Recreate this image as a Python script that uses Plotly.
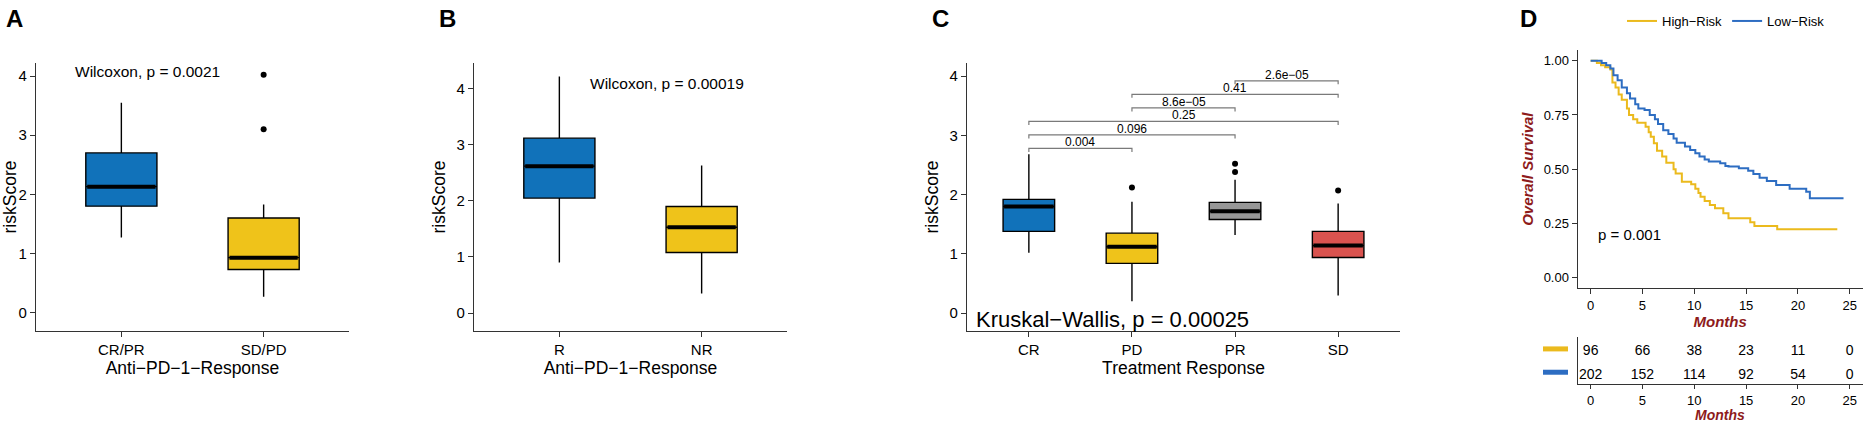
import plotly.graph_objects as go

W, H = 1864, 422
FONT = "Liberation Sans, Arial, sans-serif"
DARKRED = "#8E1B1B"
BLUE = "#1172BA"
YELLOW = "#EFC31A"
GRAY = "#979797"
RED = "#D9534F"
KM_YELLOW = "#EBBA1D"
KM_BLUE = "#2D6DC2"

# ---------------- data ----------------
# Panel A
a_cats = ["CR/PR", "SD/PD"]
a_q1 = [1.80, 0.73]
a_med = [2.13, 0.93]
a_q3 = [2.70, 1.60]
a_lo = [1.27, 0.27]
a_hi = [3.55, 1.83]
a_out = [[], [3.10, 4.02]]
a_colors = [BLUE, YELLOW]
a_label = "Wilcoxon, p = 0.0021"

# Panel B
b_cats = ["R", "NR"]
b_q1 = [2.05, 1.08]
b_med = [2.62, 1.53]
b_q3 = [3.12, 1.90]
b_lo = [0.90, 0.35]
b_hi = [4.22, 2.63]
b_out = [[], []]
b_colors = [BLUE, YELLOW]
b_label = "Wilcoxon, p = 0.00019"

# Panel C
c_cats = ["CR", "PD", "PR", "SD"]
c_q1 = [1.38, 0.84, 1.58, 0.94]
c_med = [1.80, 1.12, 1.72, 1.14]
c_q3 = [1.92, 1.35, 1.87, 1.38]
c_lo = [1.02, 0.20, 1.32, 0.30]
c_hi = [2.68, 1.88, 2.25, 1.85]
c_out = [[], [2.12], [2.38, 2.52], [2.07]]
c_colors = [BLUE, YELLOW, GRAY, RED]
c_pairs = [("CR", "PD"), ("CR", "PR"), ("CR", "SD"), ("PD", "PR"), ("PD", "SD"), ("PR", "SD")]
c_pvals = ["0.004", "0.096", "0.25", "8.6e\u221205", "0.41", "2.6e\u221205"]
c_label = "Kruskal\u2212Wallis, p = 0.00025"

# Panel D (Kaplan-Meier)
hi_t = [0, 0.6, 1.0, 1.4, 1.9, 2.1, 2.4, 2.7, 3.0, 3.5, 3.7, 4.1, 4.5, 5.3, 5.6, 5.8, 6.1, 6.4, 6.9, 7.3, 8.0, 8.2, 8.8, 9.7,
        10.1, 10.4, 10.6, 11.0, 11.5, 12.0, 12.8, 13.3, 15.4, 15.8, 18.0, 23.8]
hi_s = [1.0, 0.99, 0.98, 0.97, 0.96, 0.90, 0.877, 0.845, 0.82, 0.78, 0.75, 0.73, 0.714, 0.696, 0.67, 0.65, 0.62, 0.585,
        0.558, 0.53, 0.50, 0.48, 0.442, 0.43, 0.41, 0.39, 0.373, 0.353, 0.335, 0.32, 0.296, 0.273, 0.255, 0.238, 0.223, 0.223]
lo_t = [0, 1.06, 1.5, 1.9, 2.2, 2.6, 3.0, 3.5, 3.8, 4.3, 4.6, 5.2, 5.7, 6.2, 6.5, 7.0, 7.5, 8.0, 8.3, 9.1, 9.6, 10.1, 10.5,
        11.0, 11.4, 12.5, 13.0, 13.3, 14.3, 15.2, 15.7, 16.3, 17.0, 17.9, 19.2, 20.2, 20.8, 21.15, 24.4]
lo_s = [1.0, 0.99, 0.98, 0.965, 0.934, 0.91, 0.877, 0.85, 0.826, 0.80, 0.78, 0.773, 0.75, 0.73, 0.708, 0.68, 0.662, 0.642,
        0.622, 0.604, 0.588, 0.573, 0.558, 0.545, 0.535, 0.527, 0.515, 0.512, 0.504, 0.493, 0.478, 0.46, 0.445, 0.427,
        0.41, 0.41, 0.396, 0.366, 0.366]
km_p = "p = 0.001"
risk_times = [0, 5, 10, 15, 20, 25]
risk_high = [96, 66, 38, 23, 11, 0]
risk_low = [202, 152, 114, 92, 54, 0]
groups = ["High\u2212Risk", "Low\u2212Risk"]


def xd(a, b):
    return [a / W, b / W]


def yd(top, bottom):
    return [1 - bottom / H, 1 - top / H]


fig = go.Figure()
BOXW = 0.5


def add_boxes(cats, q1, med, q3, lo, hi, outs, colors, xa, ya):
    for i, c in enumerate(cats):
        xpos = i + 1
        fig.add_trace(go.Box(x=[xpos], q1=[q1[i]], median=[med[i]], q3=[q3[i]],
                             lowerfence=[lo[i]], upperfence=[hi[i]], width=BOXW,
                             fillcolor=colors[i], line=dict(color="black", width=1.4),
                             whiskerwidth=0, boxpoints=False, showlegend=False,
                             hoverinfo="skip", xaxis=xa, yaxis=ya))
        fig.add_trace(go.Scatter(x=[xpos - BOXW / 2 + 0.01, xpos + BOXW / 2 - 0.01], y=[med[i], med[i]],
                                 mode="lines", line=dict(color="black", width=4),
                                 showlegend=False, hoverinfo="skip", xaxis=xa, yaxis=ya))
        if outs[i]:
            fig.add_trace(go.Scatter(x=[xpos] * len(outs[i]), y=outs[i], mode="markers",
                                     marker=dict(color="black", size=6),
                                     showlegend=False, hoverinfo="skip", xaxis=xa, yaxis=ya))


add_boxes(a_cats, a_q1, a_med, a_q3, a_lo, a_hi, a_out, a_colors, "x", "y")
add_boxes(b_cats, b_q1, b_med, b_q3, b_lo, b_hi, b_out, b_colors, "x2", "y2")
add_boxes(c_cats, c_q1, c_med, c_q3, c_lo, c_hi, c_out, c_colors, "x3", "y3")

# brackets for panel C
annotations = []
base, step, tip = 2.78, 0.228, 0.06
for k, ((g1, g2), pv) in enumerate(zip(c_pairs, c_pvals)):
    x1 = c_cats.index(g1) + 1
    x2 = c_cats.index(g2) + 1
    yb = base + step * k
    fig.add_trace(go.Scatter(x=[x1, x1, x2, x2], y=[yb - tip, yb, yb, yb - tip], mode="lines",
                             line=dict(color="#7a7a7a", width=1.2), showlegend=False,
                             hoverinfo="skip", xaxis="x3", yaxis="y3"))
    annotations.append(dict(x=(x1 + x2) / 2, y=yb, xref="x3", yref="y3", text=pv, showarrow=False,
                            yanchor="bottom", yshift=-3, font=dict(size=12, color="black", family=FONT)))

# KM curves
fig.add_trace(go.Scatter(x=hi_t, y=hi_s, mode="lines", line=dict(color=KM_YELLOW, width=2, shape="hv"),
                         name=groups[0], xaxis="x4", yaxis="y4"))
fig.add_trace(go.Scatter(x=lo_t, y=lo_s, mode="lines", line=dict(color=KM_BLUE, width=2, shape="hv"),
                         name=groups[1], xaxis="x4", yaxis="y4"))

# risk table
fig.add_trace(go.Scatter(x=risk_times, y=[1] * len(risk_times), mode="text", text=[str(v) for v in risk_high],
                         textfont=dict(size=14, color="black", family=FONT), showlegend=False,
                         hoverinfo="skip", xaxis="x5", yaxis="y5"))
fig.add_trace(go.Scatter(x=risk_times, y=[0] * len(risk_times), mode="text", text=[str(v) for v in risk_low],
                         textfont=dict(size=14, color="black", family=FONT), showlegend=False,
                         hoverinfo="skip", xaxis="x5", yaxis="y5"))

tickfont = dict(size=15, color="black", family=FONT)
titlefont = dict(size=17.5, color="black", family=FONT)
common = dict(showline=True, linecolor="#333333", linewidth=1.3, ticks="outside", ticklen=5,
              tickcolor="#333333", tickwidth=1.2, showgrid=False, zeroline=False, tickfont=tickfont,
              automargin=False)
small_tick = dict(size=13, color="black", family=FONT)
months_font = dict(size=15, color=DARKRED, family=FONT)

top, bottom = 63, 331
fig.update_layout(
    template="none",
    width=W, height=H, margin=dict(l=0, r=0, t=0, b=0, pad=0), autosize=False,
    paper_bgcolor="white", plot_bgcolor="white",
    font=dict(family=FONT, color="black"),
    xaxis=dict(domain=xd(36, 349), range=[0.4, 2.6], tickvals=[1, 2], ticktext=a_cats,
               title=dict(text="Anti\u2212PD\u22121\u2212Response", font=titlefont, standoff=2), anchor="y", **common),
    yaxis=dict(domain=yd(top, bottom), range=[-0.31, 4.22], tickvals=[0, 1, 2, 3, 4],
               title=dict(text="riskScore", font=titlefont, standoff=6), anchor="x", **common),
    xaxis2=dict(domain=xd(474, 787), range=[0.4, 2.6], tickvals=[1, 2], ticktext=b_cats,
                title=dict(text="Anti\u2212PD\u22121\u2212Response", font=titlefont, standoff=2), anchor="y2", **common),
    yaxis2=dict(domain=yd(top, bottom), range=[-0.32, 4.46], tickvals=[0, 1, 2, 3, 4],
                title=dict(text="riskScore", font=titlefont, standoff=6), anchor="x2", **common),
    xaxis3=dict(domain=xd(967, 1400), range=[0.4, 4.6], tickvals=[1, 2, 3, 4], ticktext=c_cats,
                title=dict(text="Treatment Response", font=titlefont, standoff=2), anchor="y3", **common),
    yaxis3=dict(domain=yd(top, bottom), range=[-0.30, 4.22], tickvals=[0, 1, 2, 3, 4],
                title=dict(text="riskScore", font=titlefont, standoff=6), anchor="x3", **common),
    xaxis4=dict(domain=xd(1577.7, 1862.7), range=[-1.25, 26.25], tickvals=risk_times, anchor="y4",
                title=dict(text="<b><i>Months</i></b>", font=months_font, standoff=2),
                **{**common, "tickfont": small_tick}),
    yaxis4=dict(domain=yd(50, 288.3), range=[-0.05, 1.05], tickvals=[0, 0.25, 0.5, 0.75, 1.0],
                ticktext=["0.00", "0.25", "0.50", "0.75", "1.00"], anchor="x4",
                title=dict(text="<b><i>Overall Survival</i></b>", font=months_font, standoff=6),
                **{**common, "tickfont": small_tick}),
    xaxis5=dict(domain=xd(1577.7, 1862.7), range=[-1.25, 26.25], tickvals=risk_times, anchor="y5",
                **{**common, "tickfont": small_tick, "ticklen": 4}),
    yaxis5=dict(domain=yd(337, 384), range=[-0.385, 1.631], showticklabels=False, ticks="", showline=True,
                linecolor="#333333", linewidth=1.3, showgrid=False, zeroline=False, anchor="x5", automargin=False),
    legend=dict(orientation="h", x=1622 / W, y=1 - 21 / H, xanchor="left", yanchor="middle",
                font=dict(size=13, color="black", family=FONT), itemwidth=30, bgcolor="rgba(0,0,0,0)"),
)

# stat labels
annotations += [
    dict(x=0.66, y=4.07, xref="x", yref="y", text=a_label, showarrow=False, xanchor="left",
         font=dict(size=15.5, color="black", family=FONT)),
    dict(x=1.2, y=4.1, xref="x2", yref="y2", text=b_label, showarrow=False, xanchor="left",
         font=dict(size=15.5, color="black", family=FONT)),
    dict(x=0.47, y=-0.1, xref="x3", yref="y3", text=c_label, showarrow=False, xanchor="left",
         font=dict(size=22, color="black", family=FONT)),
    dict(x=0.5, y=0.2, xref="x4", yref="y4", text=km_p, showarrow=False, xanchor="left",
         font=dict(size=15, color="black", family=FONT)),
    # risk-table x-axis title
    dict(x=12.5, y=1 - 405 / H, xref="x5", yref="paper", text="<b><i>Months</i></b>", showarrow=False,
         xanchor="center", yanchor="top", font=dict(size=14, color=DARKRED, family=FONT)),
]
# panel letters
for letter, px in zip(["A", "B", "C", "D"], [4, 437, 930, 1518]):
    annotations.append(dict(x=px / W, y=1 - 3 / H, xref="paper", yref="paper", text="<b>%s</b>" % letter,
                            showarrow=False, xanchor="left", yanchor="top",
                            font=dict(size=24, color="black", family=FONT)))
fig.update_layout(annotations=annotations)

# risk table colour keys
for yv, col in zip([1, 0], [KM_YELLOW, KM_BLUE]):
    fig.add_shape(type="line", xref="paper", yref="y5", x0=1543 / W, x1=1568 / W, y0=yv + 0.12, y1=yv + 0.12,
                  line=dict(color=col, width=5))

fig.write_html("out.html", config={"displayModeBar": False},
               post_script="document.body.style.margin='0';document.body.style.overflow='hidden';")
